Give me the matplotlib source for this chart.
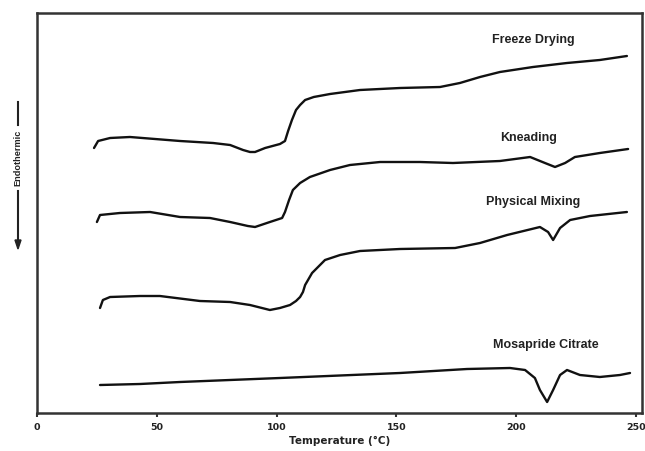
import matplotlib
matplotlib.use("Agg")
import matplotlib.pyplot as plt
from matplotlib.lines import Line2D
from matplotlib.patches import FancyArrow

# ---- data (temperature in °C, heat-flow signal in arbitrary units) ----
fd_T = [23.8, 25.5, 30.5, 38.8, 59.7, 73.5, 80.6, 86.0, 88.9, 91.0, 95.2, 101.4,
        103.5, 104.8, 106.4, 108.1, 109.8, 111.9, 115.5, 122.3, 134.8, 151.5,
        168.2, 176.5, 184.9, 193.2, 207.0, 221.2, 234.9, 246.2]
fd_y = [265, 272, 275, 276, 272, 270, 268, 263, 261, 261, 265, 269,
        272, 282, 293, 303, 308, 313, 316, 319, 323, 325,
        326, 330, 336, 341, 346, 350, 353, 357]

kn_T = [25.0, 26.3, 34.6, 47.2, 59.7, 72.2, 80.6, 88.0, 91.0, 97.2, 102.3,
        103.5, 105.2, 106.8, 109.8, 113.9, 122.3, 130.6, 143.2, 159.8, 173.6,
        193.2, 205.8, 212.0, 216.2, 220.4, 224.5, 234.9, 246.7]
kn_y = [191, 198, 200, 201, 196, 195, 191, 187, 186, 191, 195,
        201, 213, 223, 230, 236, 243, 248, 251, 251, 250,
        252, 256, 250, 246, 250, 256, 260, 264]

pm_T = [26.3, 27.5, 30.5, 43.0, 51.3, 68.0, 80.6, 88.9, 97.2, 101.4, 105.6,
        108.1, 109.8, 111.0, 111.9, 114.8, 120.2, 126.5, 134.8, 151.5, 174.5,
        184.9, 196.2, 209.9, 213.3, 215.4, 218.3, 222.5, 230.8, 246.2]
pm_y = [105, 113, 116, 117, 117, 112, 111, 108, 103, 105, 108,
        112, 116, 121, 128, 140, 153, 158, 162, 164, 165,
        170, 178, 186, 181, 173, 185, 193, 197, 201]

mc_T = [26.3, 43.0, 59.7, 101.4, 151.5, 179.5, 197.4, 203.7, 207.8, 209.9,
        212.9, 215.4, 218.3, 221.2, 226.6, 234.9, 243.3, 247.5]
mc_y = [28, 29, 31, 35, 40, 44, 45, 43, 35, 23,
        11, 23, 38, 43, 38, 36, 38, 40]

series_names = ["Freeze Drying", "Kneading", "Physical Mixing", "Mosapride Citrate"]
label_T = [207.0, 205.0, 207.0, 212.5]
label_y = [373, 275, 211, 68]

x_ticks = [0, 50, 100, 150, 200, 250]

# ---- figure ----
W, H = 645, 451
fig = plt.figure(figsize=(W / 100, H / 100), dpi=100)
ax = fig.add_axes([37 / W, (H - 413) / H, 605 / W, 400 / H])

curves = [(fd_T, fd_y), (kn_T, kn_y), (pm_T, pm_y), (mc_T, mc_y)]
for T, y in curves:
    ax.plot(T, y, color="#111111", lw=1.7, solid_joinstyle="round",
            solid_capstyle="round")

for name, tx, ty in zip(series_names, label_T, label_y):
    ax.text(tx, ty, name, ha="center", va="center", fontsize=9,
            fontweight="bold", family="Liberation Sans", color="#222222")

ax.set_xlim(0, 252.5)
ax.set_ylim(0, 400)
ax.set_xticks(x_ticks)
ax.set_xticklabels([str(t) for t in x_ticks], fontsize=6.8, fontweight="bold",
                   color="#222222")
ax.set_yticks([])
ax.tick_params(axis="x", direction="out", length=3, width=1.5, color="#333333",
               pad=4)
for s in ax.spines.values():
    s.set_linewidth(1.8)
    s.set_color("#333333")
ax.set_xlabel("Temperature (°C)", fontsize=7.5, fontweight="bold",
              color="#222222", labelpad=3)

# y-axis "Endothermic" label with dash and downward arrow
xf = 18 / W
fig.text(xf, 1 - 158 / H, "Endothermic", rotation=90, ha="center", va="center",
         fontsize=6.6, fontweight="bold", family="Liberation Sans",
         color="#222222")
fig.add_artist(Line2D([xf, xf], [1 - 102 / H, 1 - 125 / H], lw=1.5,
                      color="#222222", transform=fig.transFigure))
fig.add_artist(Line2D([xf, xf], [1 - 191 / H, 1 - 242 / H], lw=1.5,
                      color="#222222", transform=fig.transFigure))
fig.add_artist(FancyArrow(
    xf, 1 - 240 / H, 0, -9 / H, width=0.0, head_width=6 / W, head_length=9 / H,
    length_includes_head=True, color="#222222", transform=fig.transFigure))

fig.savefig("out.png", dpi=100)
